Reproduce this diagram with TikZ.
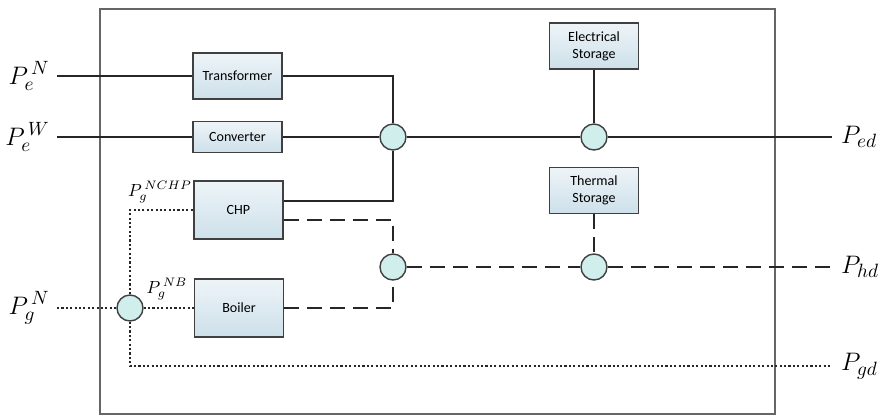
\documentclass[tikz,border=0pt]{standalone}
\usepackage{fontspec}
\setsansfont{Carlito}
\usetikzlibrary{positioning}
\definecolor{boxfill}{RGB}{205,224,234}
\definecolor{busfill}{RGB}{208,238,236}
\tikzset{
  unit/.style={draw=black!75, line width=0.8pt, top color=boxfill!35, bottom color=boxfill,
    minimum width=1.78cm, minimum height=0.92cm, align=center,
    font=\sffamily\fontsize{8}{9.5}\selectfont},
  bus/.style={circle, draw=black!75, line width=0.8pt, fill=busfill, minimum size=0.52cm, inner sep=0pt},
  eline/.style={line width=1.1pt, black!85},
  hline/.style={eline, dash pattern=on 0.3cm off 0.16cm},
  gline/.style={line width=1.2pt, black!85, dash pattern=on 1.2pt off 1.3pt},
  plabel/.style={font=\fontsize{15}{17}\selectfont, inner sep=1pt},
  slabel/.style={font=\fontsize{10}{12}\selectfont, inner sep=0.5pt}
}
\begin{document}
\begin{tikzpicture}[x=0.02cm, y=-0.02cm]
\useasboundingbox (0,0) rectangle (887,417);
\draw[black!60, line width=0.8pt] (100,9) rectangle (775,414);

% units
\node[unit] (trafo) at (237.5,76) {Transformer};
\node[unit, minimum height=0.62cm] (conv) at (237.5,137) {Converter};
\node[unit, minimum height=1.16cm] (chp) at (238.5,210) {CHP};
\node[unit, minimum height=1.16cm] (boiler) at (239,308) {Boiler};
\node[unit] (estor) at (594,46) {Electrical\\Storage};
\node[unit] (tstor) at (594,190.5) {Thermal\\Storage};

% buses
\node[bus] (eb1) at (393,137) {};
\node[bus] (eb2) at (594,137) {};
\node[bus] (hb1) at (393,267) {};
\node[bus] (hb2) at (594,267) {};
\node[bus] (gb) at (130,308) {};

% inputs and outputs
\coordinate (inEN) at (57,76);
\coordinate (inEW) at (57,137);
\coordinate (inG) at (57,308);
\coordinate (outE) at (832,137);
\coordinate (outH) at (832,267);
\coordinate (outG) at (832,366);

\node[plabel, left=3pt of inEN] (PeN) {$P_e^{\,N}$};
\node[plabel, left=3pt of inEW] (PeW) {$P_e^{\,W}$};
\node[plabel, left=3pt of inG] (PgN) {$P_g^{\,N}$};
\node[plabel, right=4pt of outE] (Ped) {$P_{ed}$};
\node[plabel, right=4pt of outH] (Phd) {$P_{hd}$};
\node[plabel, right=4pt of outG] (Pgd) {$P_{gd}$};
\node[slabel] (PgCHP) at (160,192) {$P_g^{\,NCHP}$};
\node[slabel] (PgB) at (167,289) {$P_g^{\,NB}$};

% electricity
\draw[eline] (inEN) -- (trafo.west);
\draw[eline] (inEW) -- (conv.west);
\draw[eline] (trafo.east) -| (eb1.north);
\draw[eline] (conv.east) -- (eb1.west);
\draw[eline] ([yshift=0.18cm]chp.east) -| (eb1.south);
\draw[eline] (eb1.east) -- (eb2.west);
\draw[eline] (estor.south) -- (eb2.north);
\draw[eline] (eb2.east) -- (outE);

% heat
\draw[hline] ([yshift=-0.2cm]chp.east) -| (hb1.north);
\draw[hline] (boiler.east) -| (hb1.south);
\draw[hline] (hb1.east) -- (hb2.west);
\draw[hline] (tstor.south) -- (hb2.north);
\draw[hline] (hb2.east) -- (outH);

% gas
\draw[gline] (inG) -- (gb.west);
\draw[gline] (gb.east) -- (boiler.west);
\draw[gline] (gb.north) |- (chp.west);
\draw[gline] (gb.south) |- (outG);
\end{tikzpicture}
\end{document}
